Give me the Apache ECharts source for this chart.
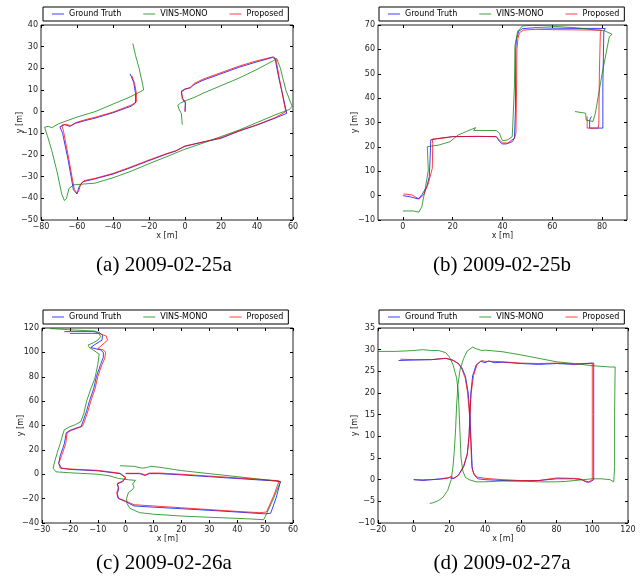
<!DOCTYPE html>
<html>
<head>
<meta charset="utf-8">
<script src="https://cdn.jsdelivr.net/npm/echarts@6/dist/echarts.min.js"></script>
<style>
  html, body { margin: 0; padding: 0; background: #fff; }
  #chart { width: 643px; height: 582px; }
</style>
</head>
<body>
<div id="chart"></div>
<script>
// legend names
const seriesNames = ['Ground Truth', 'VINS-MONO', 'Proposed'];
const captions = ['(a) 2009-02-25a', '(b) 2009-02-25b', '(c) 2009-02-26a', '(d) 2009-02-27a'];

// (a) 2009-02-25a
const gtA = [[0,0],[0.2,4],[-1.5,6],[-2,9.5],[0,10.5],[3,11],[5,12.5],[10,14.5],[20,17.5],[30,20.5],[40,23],[48.5,25],[50,24.5],[52,16],[54.5,7],[56.5,-0.8],[50,-3],[40,-6.2],[30,-9],[20,-12.3],[10,-14],[0,-16],[-5.5,-18.3],[-10,-19.5],[-20,-22.6],[-30,-25.8],[-40,-28.8],[-50,-31],[-55,-32],[-57,-32.5],[-59,-35],[-60,-38],[-61,-38.5],[-62,-36],[-65,-22],[-68,-10],[-69.5,-7],[-67,-6],[-64,-6.8],[-61,-5.4],[-55,-4],[-50,-3],[-40,-0.5],[-30,2.5],[-27.5,4],[-27.5,8.5],[-28.5,13.5],[-30.5,17.5]];
const vinsA = [[-1.5,-6],[-2,-1],[-3.5,1.5],[-4,3],[-2.5,4],[0,5],[5,6.5],[10,8.5],[20,12],[30,15.5],[40,19.5],[49,23.5],[51,24.5],[53,20],[56,10],[59.5,2.5],[58,1],[50,-1.5],[40,-5],[30,-8.5],[20,-11.5],[10,-14.5],[3,-16.5],[0,-17.3],[-5,-19],[-10,-20.7],[-20,-24],[-30,-27.5],[-40,-30.5],[-50,-33],[-55,-33.3],[-62,-33.8],[-64.5,-35.5],[-65.8,-40],[-67,-41],[-68.5,-38],[-71,-28],[-74,-18],[-76.5,-11],[-78,-7.2],[-76,-6.8],[-74,-7.4],[-70,-5.5],[-60,-2.5],[-50,0],[-40,3.5],[-30,7],[-23,10],[-23.5,12.5],[-25.5,20],[-27.5,26],[-29,31.5]];
const propA = [[0,0],[0.3,4.5],[-1.2,6],[-2,9],[0,10.3],[3,11.2],[5,13],[10,15],[20,18],[30,21],[40,23.5],[49,25.3],[50.5,24.5],[52.5,15],[55,4],[56,0],[50,-2.8],[40,-6],[30,-8.8],[20,-12],[10,-14],[0,-15.8],[-5,-18],[-10,-19.3],[-20,-22.3],[-30,-25.5],[-40,-28.5],[-50,-30.8],[-56,-31.8],[-58,-33.5],[-59,-36.5],[-60,-37.5],[-61.5,-36],[-64.5,-22],[-67.5,-9],[-68.5,-6.2],[-66,-5.8],[-63.5,-6.5],[-60.5,-5],[-55,-3.6],[-50,-2.6],[-40,-0.2],[-30,3],[-27,4.5],[-27,8.5],[-28,13],[-29.5,16.5]];

// (b) 2009-02-25b
const gtB = [[0,0],[3,-0.5],[6.2,-1.4],[7.6,0.3],[9.6,3.7],[10.6,7.8],[10.9,14.7],[11.2,22.9],[15,23.6],[20,24.2],[30,24.3],[37.5,24.2],[38.8,22.2],[39.9,21.2],[41.5,21.2],[43.9,22.1],[44.8,23.6],[45.2,35],[45.3,60],[45.6,64],[46.5,67.5],[48.1,68.5],[53.4,68.9],[60,68.7],[70,68.6],[80,68.6],[81.3,68.5],[80.7,67.5],[80.3,45],[80.3,30.5],[80.3,27.7],[77,27.7],[75,27.7],[75,31],[75.7,32.5]];
const vinsB = [[0,-6.3],[4.3,-6.3],[6.4,-6.8],[7.6,-4.5],[8.9,2.3],[10.2,10.5],[9.8,20.1],[10.2,20.7],[14.2,20.7],[18.9,22.1],[22.2,24.9],[25.5,26.3],[29.2,27.9],[28.4,26.7],[37.5,26.7],[38.8,25.6],[39.5,23.6],[40.1,22.5],[42.1,22.9],[43.9,24.2],[44.1,28.4],[44.8,45],[45,61.4],[46.1,67.5],[48.1,69.6],[52.1,69.9],[60,69.5],[70,68.8],[81,67.6],[84,66.2],[82.9,65.2],[80,50],[77.3,33.8],[76.3,30.4],[75,30.7],[73.6,31],[73.4,33.8],[69.1,34.5]];
const propB = [[0.3,0.7],[3.6,0.3],[6.5,-1.4],[8.5,0.6],[10.2,5],[11.8,11.2],[12,21.5],[11.8,23.2],[14.9,23.4],[20.2,24.2],[30,24.3],[37.5,24.2],[38.8,22.7],[40.1,21.6],[42.1,21.6],[44.8,23.6],[45.4,25.6],[45.6,40],[45.8,60],[46.2,64.5],[46.8,66.8],[48.4,67.9],[53.4,68.2],[60,68.1],[70,68],[79.7,67.9],[80.3,67.3],[79.3,66.8],[78.9,50],[78.7,29.8],[78.4,27.7],[76,27.7],[74,27.7],[74,30],[74,32.5]];

// (c) 2009-02-26a
const gtC = [[0,0.5],[5,0.5],[7,-1],[8.5,0.5],[12,0.5],[20,-0.5],[30,-2],[40,-3.5],[50,-5],[54,-5.5],[55.5,-6],[54,-19],[52,-32],[50,-32.5],[40,-31],[30,-29.6],[20,-28.3],[10,-27],[3,-26],[0,-22.5],[-2.5,-20],[-3,-16],[-2.5,-12],[-3,-8],[-1,-6],[0,-3],[-2,0.5],[-10,2.8],[-20,4],[-23,5],[-24,9],[-23.5,15],[-22,25],[-21.3,34],[-20,36],[-17,38.5],[-16,39],[-15.5,42],[-14,52],[-13,60],[-11.5,70],[-10.5,80],[-9,90],[-8,96],[-8,100],[-9,102],[-12.5,104],[-11,106.5],[-8.5,110],[-8.3,114],[-9.5,116.5],[-12,117],[-20,117],[-22,117]];
const vinsC = [[-2,7],[3,6.5],[6,5],[7.5,5.5],[9,6.5],[12,5.8],[20,3],[30,0.5],[40,-2],[50,-4.5],[55.5,-6],[53,-20],[50,-35],[49.5,-37.3],[45,-36.7],[40,-36.2],[30,-35.3],[20,-34.3],[10,-32.8],[5,-31.5],[1.5,-28],[0.5,-24],[0.3,-20],[1,-15],[2.5,-12.5],[3,-10.5],[2.5,-8],[3.5,-5],[1,-4.5],[-2.5,-3.5],[-6,-1.2],[-10,0],[-20,1.2],[-25,2],[-26,5],[-25.5,10],[-24.5,18],[-23.5,25],[-22.5,33],[-22,36.5],[-20,39],[-18,40.7],[-16,43.4],[-15,50],[-14,60],[-12.5,70],[-11,79],[-10,90],[-9.5,98.5],[-11,101],[-13,104],[-13.5,106],[-11.5,108],[-10,110],[-9,113],[-9.5,115],[-11,117.5],[-20,118.5],[-25,119.3],[-27,119.5]];
const propC = [[0,0.8],[5,0.8],[7,-0.5],[8.5,1],[12,1],[20,0],[30,-1.5],[40,-3],[50,-4.5],[54,-5.2],[55,-5.5],[53,-18],[50.5,-31],[48,-31.5],[40,-30.5],[30,-29],[20,-27.5],[10,-26],[3,-25],[0,-22],[-2.8,-19.5],[-3.2,-15],[-2.6,-11],[-3,-7.5],[-1,-5.5],[0,-2.5],[-2,0.8],[-10,3.2],[-20,4.3],[-23.5,5],[-24,9],[-23,15],[-21.5,25],[-21,34],[-19.5,36],[-16.5,38.5],[-15.5,39.5],[-15,42],[-13.5,52],[-12.5,60],[-11,70],[-10,80],[-8.5,90],[-7.5,95],[-7.2,100],[-8,102],[-10,103],[-8.5,106],[-6.5,110],[-7,113.5],[-9.5,115.5],[-12,115.5],[-20,115.5]];

// (d) 2009-02-27a
const gtD = [[0,0],[5,-0.2],[10,0],[15,0.2],[20,0.5],[22,0.2],[25,1],[28,3],[30,5.8],[31,10],[31.5,15],[32,20],[33,24],[35,26.5],[37.5,27.3],[40,27],[42,27.4],[45,27],[50,27.1],[60,26.8],[70,26.6],[80,26.8],[90,26.6],[100.8,26.9],[100.8,15],[100.8,0],[99,-0.5],[97,-0.6],[94,0],[90,0.2],[80,0.2],[70,-0.2],[60,-0.3],[50,-0.2],[40,0],[36,0.2],[34,1],[32.8,2.5],[32.2,8],[31.5,15],[30.5,20],[29,23.8],[27,25.8],[25,26.8],[22,27.6],[18,28],[10,27.7],[0,27.6],[-8.5,27.5]];
const vinsD = [[9,-5.5],[11,-5.3],[14,-4.8],[16.5,-4],[19,-2.5],[21,0],[22,3],[22.8,7],[23.5,12],[24,17],[24.8,22],[26,25.5],[28,28],[30,29.7],[33,30.6],[35,30.2],[38,29.8],[40,29.9],[45,29.7],[50,29.5],[60,28.8],[70,28],[80,27.2],[90,26.8],[100,26.3],[110,26],[112.8,26],[112.5,15],[112.5,3],[112,-0.5],[111,-0.5],[110,0],[105,0.2],[100,0.2],[95,0],[90,-0.2],[85,-0.4],[80,-0.5],[70,-0.5],[60,-0.3],[50,-0.3],[40,-0.5],[35,-0.5],[31,0],[29,0.5],[27.5,2],[26.5,5],[26,10],[25.5,15],[25,20],[24,23.5],[22,26.5],[20,28.3],[18,29.3],[14,29.8],[10,29.8],[5,30],[0,29.8],[-10,29.6],[-20,29.6]];
const propD = [[0,0],[5,0],[10,0],[15,0.1],[19,0.3],[21,0.8],[22.5,0.3],[25,1],[28,3.2],[30,6],[31,10],[31.5,15],[32.2,20],[33.5,24],[35.5,26.6],[38,27.5],[40,27.3],[45,27.3],[50,27.2],[60,26.9],[70,26.8],[80,26.9],[90,26.7],[100,26.9],[100,15],[100,0],[98,-0.5],[96,-0.3],[93,0.2],[90,0.3],[80,0.4],[70,-0.2],[60,-0.2],[50,0],[40,0.3],[35.5,0.6],[33.5,1.5],[32.5,3],[32,8],[31.2,15],[30.2,20],[28.8,23.5],[27,25.5],[25,26.8],[22,27.5],[18,28],[10,27.7],[0,27.7],[-7.5,27.8]];

// axis ranges per panel: [min, max, interval]
const xRanges = [[-80, 60, 20], [-10, 90, 20], [-30, 60, 10], [-20, 120, 20]];
const yRanges = [[-50, 40, 10], [-10, 70, 10], [-40, 120, 20], [-10, 35, 5]];
const xTicksB = [0, 20, 40, 60, 80];

const panelData = [[gtA, vinsA, propA], [gtB, vinsB, propB], [gtC, vinsC, propC], [gtD, vinsD, propD]];

const colors = ['rgba(0,0,255,0.75)', 'rgba(0,128,0,0.75)', 'rgba(255,0,0,0.75)'];
const grids = [
  { left: 41, top: 25, width: 252, height: 195 },
  { left: 378, top: 25, width: 249, height: 195 },
  { left: 42, top: 328, width: 251, height: 195 },
  { left: 378, top: 328, width: 250, height: 195 }
];
const legendPos = [[43, 7], [379, 7], [43, 310], [379, 310]];
const captionPos = [[164, 265], [502, 265], [164, 563], [502, 563]];

const FONT = 'DejaVu Sans';
const minus = v => String(v).replace('-', '\u2212');

const xAxis = [], yAxis = [], series = [], legend = [], graphic = [];

function ticks(custom) {
  const t = { inside: true, length: 3, lineStyle: { color: '#000' } };
  if (custom) t.customValues = custom;
  return t;
}

grids.forEach((g, i) => {
  const [xmin, xmax, xint] = xRanges[i];
  const [ymin, ymax, yint] = yRanges[i];
  const custom = i === 1 ? xTicksB : undefined;
  const noLine = { show: false, onZero: false };

  xAxis.push({
    gridIndex: i, type: 'value', min: xmin, max: xmax, interval: xint,
    position: 'bottom',
    name: 'x [m]', nameLocation: 'middle', nameGap: 12, nameMoveOverlap: false,
    nameTextStyle: { fontFamily: FONT, fontSize: 8, color: '#222' },
    axisLine: noLine,
    axisTick: ticks(custom),
    axisLabel: Object.assign({ fontFamily: FONT, fontSize: 8, color: '#222', margin: 3,
      showMinLabel: true, showMaxLabel: true, formatter: minus }, custom ? { customValues: custom } : {}),
    splitLine: { show: false }
  });
  xAxis.push({
    gridIndex: i, type: 'value', min: xmin, max: xmax, interval: xint,
    position: 'top',
    axisLine: noLine, axisTick: ticks(custom),
    axisLabel: { show: false }, splitLine: { show: false }
  });
  yAxis.push({
    gridIndex: i, type: 'value', min: ymin, max: ymax, interval: yint,
    position: 'left',
    name: 'y [m]', nameLocation: 'middle', nameGap: i % 2 ? 19 : 17, nameMoveOverlap: false,
    nameTextStyle: { fontFamily: FONT, fontSize: 8, color: '#222' },
    axisLine: noLine,
    axisTick: ticks(),
    axisLabel: { fontFamily: FONT, fontSize: 8, color: '#222', margin: 3,
      showMinLabel: true, showMaxLabel: true, formatter: minus },
    splitLine: { show: false }
  });
  yAxis.push({
    gridIndex: i, type: 'value', min: ymin, max: ymax, interval: yint,
    position: 'right',
    axisLine: noLine,
    axisTick: ticks(),
    axisLabel: { show: false }, splitLine: { show: false }
  });

  panelData[i].forEach((d, k) => {
    series.push({
      name: seriesNames[k], type: 'line', data: d,
      xAxisIndex: 2 * i, yAxisIndex: 2 * i,
      symbol: 'none', smooth: false, animation: false,
      lineStyle: { color: colors[k], width: 1 },
      itemStyle: { color: colors[k] }
    });
  });

  legend.push({
    data: seriesNames, left: legendPos[i][0], top: legendPos[i][1],
    orient: 'horizontal', icon: 'rect', itemWidth: 12, itemHeight: 1, itemGap: 22,
    padding: [3, 5, 3, 9], borderColor: '#000', borderWidth: 1,
    backgroundColor: '#fff',
    textStyle: { fontFamily: FONT, fontSize: 8, color: '#000', lineHeight: 8 },
    selectedMode: false
  });

  graphic.push({
    type: 'text', x: captionPos[i][0], y: captionPos[i][1],
    style: { text: captions[i], fontFamily: 'Liberation Serif', fontSize: 21,
      fill: '#000', align: 'center', verticalAlign: 'middle' }
  });
});

const option = {
  backgroundColor: '#fff',
  animation: false,
  grid: grids.map(g => Object.assign({ show: true, borderColor: '#222', borderWidth: 1,
    backgroundColor: 'transparent', containLabel: false }, g)),
  xAxis, yAxis, series, legend, graphic
};

const chart = echarts.init(document.getElementById('chart'), null, { renderer: 'canvas' });
chart.setOption(option);
</script>
</body>
</html>
